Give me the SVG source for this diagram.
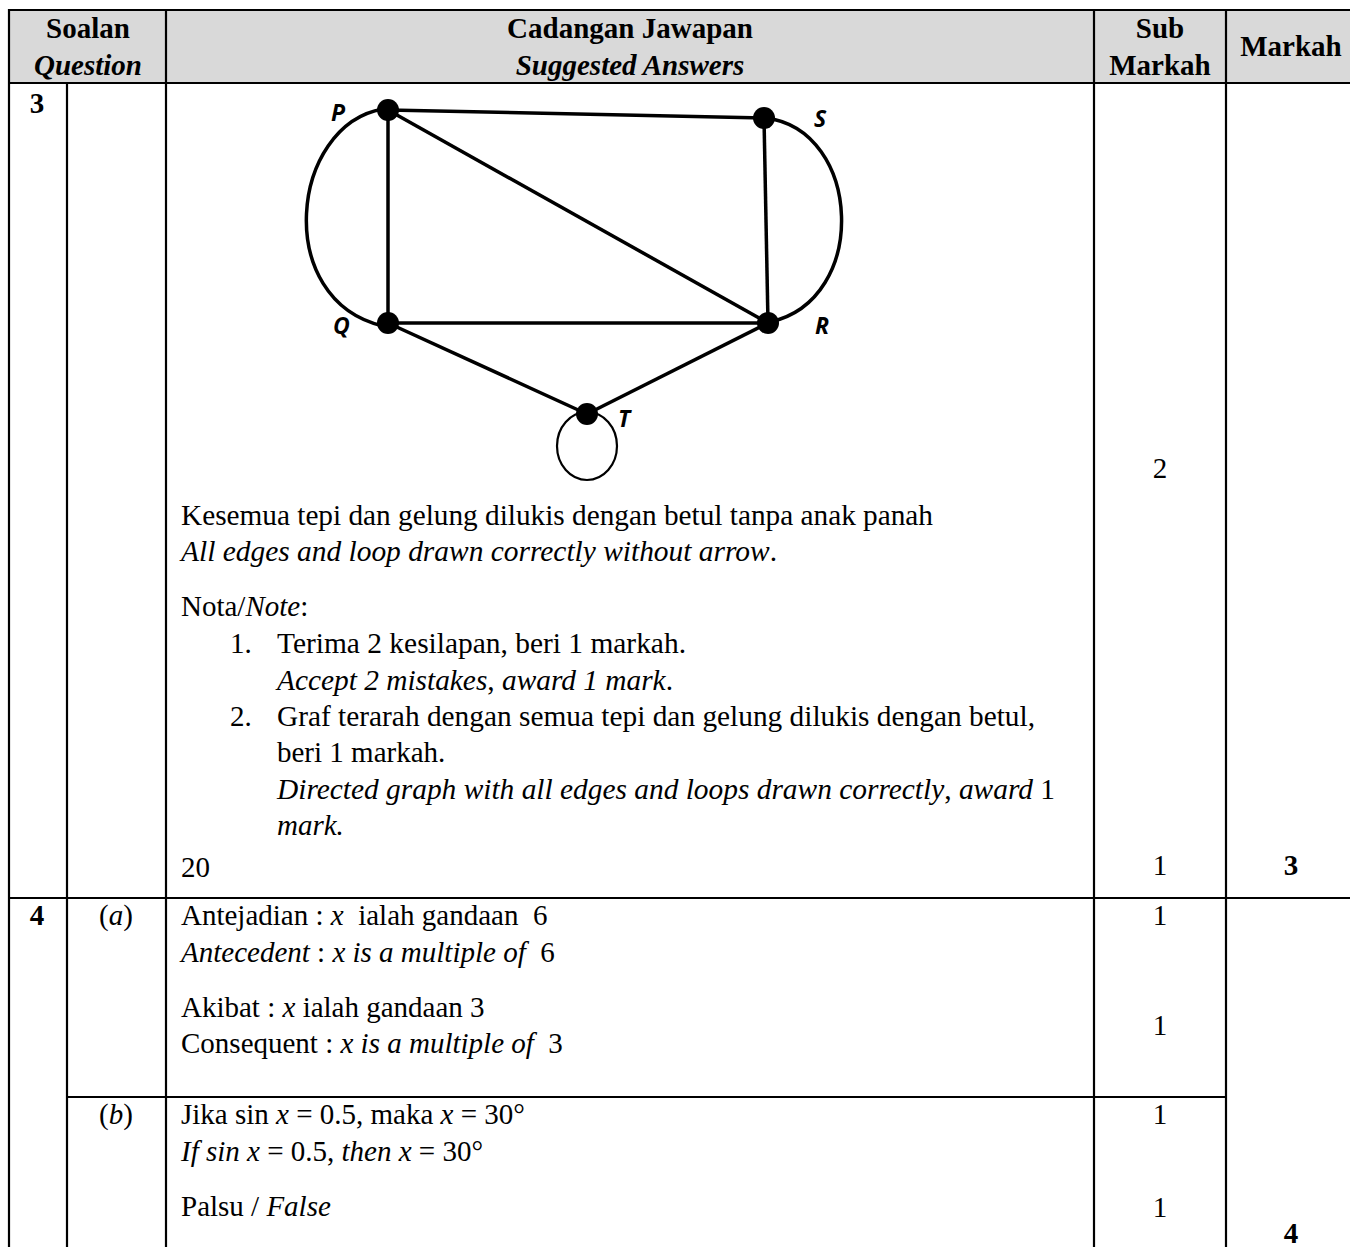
<svg xmlns="http://www.w3.org/2000/svg" width="1350" height="1247" viewBox="0 0 1350 1247">
<style>
.t{font-family:"Liberation Serif","Times New Roman",serif;font-size:29px;fill:#000}
.b{font-weight:bold}
.i{font-style:italic}
.c{text-anchor:middle}
.grid line{stroke:#000;stroke-width:2.2}
.edge{stroke:#000;stroke-width:3.5;fill:none}
.lbl{font-family:"Open Sans","DejaVu Sans",sans-serif;font-weight:bold;font-style:italic;font-size:23px;fill:#000}
</style>
<rect x="0" y="0" width="1350" height="1247" fill="#fff"/>
<rect x="9" y="10" width="1341" height="73" fill="#d9d9d9"/>
<g class="grid">
<line x1="8" y1="10" x2="1350" y2="10"/>
<line x1="8" y1="83" x2="1350" y2="83"/>
<line x1="8" y1="898" x2="1350" y2="898"/>
<line x1="67" y1="1097" x2="1226" y2="1097"/>
<line x1="9" y1="9" x2="9" y2="1247"/>
<line x1="67" y1="83" x2="67" y2="1247"/>
<line x1="166" y1="9" x2="166" y2="1247"/>
<line x1="1094" y1="9" x2="1094" y2="1247"/>
<line x1="1226" y1="9" x2="1226" y2="1247"/>
</g>
<g id="header">
<text class="t b c" x="88" y="38">Soalan</text>
<text class="t b i c" x="88" y="75">Question</text>
<text class="t b c" x="630" y="38">Cadangan Jawapan</text>
<text class="t b i c" x="630" y="75">Suggested Answers</text>
<text class="t b c" x="1160" y="38">Sub</text>
<text class="t b c" x="1160" y="75">Markah</text>
<text class="t b c" x="1291" y="56">Markah</text>
</g>
<g id="connectors">
<line class="edge" x1="388" y1="110" x2="764" y2="118"/>
<line class="edge" x1="388" y1="110" x2="388" y2="323"/>
<line class="edge" x1="388" y1="110" x2="768" y2="323"/>
<line class="edge" x1="764" y1="118" x2="768" y2="323"/>
<line class="edge" x1="388" y1="323" x2="768" y2="323"/>
<line class="edge" x1="388" y1="323" x2="587" y2="414"/>
<line class="edge" x1="768" y1="323" x2="587" y2="414"/>
<path class="edge" d="M383,109 C290,125 272,300 383,326"/>
<path class="edge" d="M766,118 C862,130 870,300 770,322"/>
<ellipse cx="587" cy="446" rx="30" ry="34" fill="none" stroke="#000" stroke-width="2.2"/>
</g>
<g id="node-P"><circle cx="388" cy="110" r="11"/><text class="lbl" x="331" y="121">P</text></g>
<g id="node-S"><circle cx="764" cy="118" r="11"/><text class="lbl" x="814" y="127">S</text></g>
<g id="node-Q"><circle cx="388" cy="323" r="11"/><text class="lbl" x="333" y="334">Q</text></g>
<g id="node-R"><circle cx="768" cy="323" r="11"/><text class="lbl" x="815" y="334">R</text></g>
<g id="node-T"><circle cx="587" cy="414" r="11"/><text class="lbl" x="618" y="427">T</text></g>
<g id="row3">
<text class="t b c" x="37" y="113">3</text>
<text class="t" x="181" y="525" textLength="752" lengthAdjust="spacingAndGlyphs">Kesemua tepi dan gelung dilukis dengan betul tanpa anak panah</text>
<text class="t" x="181" y="561" textLength="596" lengthAdjust="spacingAndGlyphs"><tspan class="i">All edges and loop drawn correctly without arrow</tspan>.</text>
<text class="t" x="181" y="616">Nota/<tspan class="i">Note</tspan>:</text>
<text class="t" x="230" y="653">1.</text>
<text class="t" x="277" y="653" textLength="409" lengthAdjust="spacingAndGlyphs">Terima 2 kesilapan, beri 1 markah.</text>
<text class="t" x="277" y="690" textLength="396" lengthAdjust="spacingAndGlyphs"><tspan class="i">Accept 2 mistakes</tspan>, <tspan class="i">award 1 mark</tspan>.</text>
<text class="t" x="230" y="726">2.</text>
<text class="t" x="277" y="726" textLength="758" lengthAdjust="spacingAndGlyphs">Graf terarah dengan semua tepi dan gelung dilukis dengan betul,</text>
<text class="t" x="277" y="762">beri 1 markah.</text>
<text class="t" x="277" y="799" textLength="778" lengthAdjust="spacingAndGlyphs"><tspan class="i">Directed graph with all edges and loops drawn correctly</tspan>, <tspan class="i">award</tspan> 1</text>
<text class="t i" x="277" y="835">mark.</text>
<text class="t" x="181" y="877">20</text>
<text class="t c" x="1160" y="478">2</text>
<text class="t c" x="1160" y="875">1</text>
<text class="t b c" x="1291" y="875">3</text>
</g>
<g id="row4">
<text class="t b c" x="37" y="925">4</text>
<text class="t c" x="116" y="925">(<tspan class="i">a</tspan>)</text>
<text class="t" x="181" y="925" xml:space="preserve">Antejadian : <tspan class="i">x</tspan>  ialah gandaan  6</text>
<text class="t" x="181" y="962" xml:space="preserve"><tspan class="i">Antecedent</tspan> : <tspan class="i">x is a multiple of</tspan>  6</text>
<text class="t" x="181" y="1017">Akibat : <tspan class="i">x</tspan> ialah gandaan 3</text>
<text class="t" x="181" y="1053" xml:space="preserve">Consequent : <tspan class="i">x is a multiple of</tspan>  3</text>
<text class="t c" x="1160" y="925">1</text>
<text class="t c" x="1160" y="1035">1</text>
<text class="t c" x="116" y="1124">(<tspan class="i">b</tspan>)</text>
<text class="t" x="181" y="1124">Jika sin <tspan class="i">x</tspan> = 0.5, maka <tspan class="i">x</tspan> = 30°</text>
<text class="t" x="181" y="1161"><tspan class="i">If sin x</tspan> = 0.5, <tspan class="i">then x</tspan> = 30°</text>
<text class="t" x="181" y="1216">Palsu / <tspan class="i">False</tspan></text>
<text class="t c" x="1160" y="1124">1</text>
<text class="t c" x="1160" y="1217">1</text>
<text class="t b c" x="1291" y="1243">4</text>
</g>
</svg>
